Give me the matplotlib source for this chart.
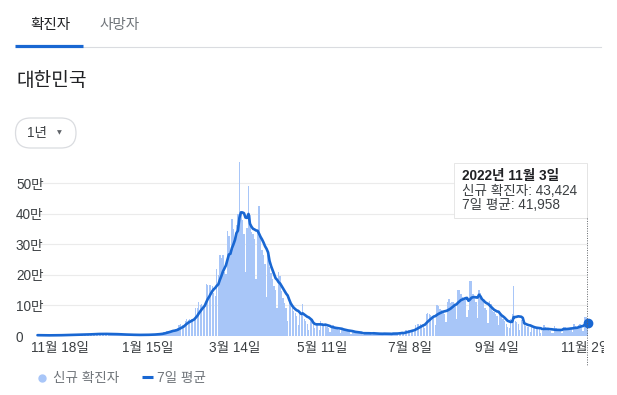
import numpy as np
import pandas as pd
import matplotlib
matplotlib.use('Agg')
import matplotlib.pyplot as plt
import matplotlib.dates as mdates
from matplotlib.patches import FancyBboxPatch, Rectangle
from matplotlib.lines import Line2D
from matplotlib.transforms import Bbox, TransformedBbox

plt.rcParams['font.family'] = ['Liberation Sans', 'Noto Sans CJK KR']

# daily new cases (thousands), 2021-11-03 .. 2022-11-03
nov21 = [2.7, 2.5, 2.3, 2.2, 2.2, 1.8, 1.7,
         2.4, 2.5, 2.4, 2.3, 2.4, 2.0, 2.1,
         3.2, 3.3, 3.0, 3.2, 3.1, 2.8, 2.7,
         4.1, 3.9, 4.1, 3.9, 3.9, 3.3, 3.0]
dec21 = [5.1, 5.3, 4.9, 5.4, 5.1, 4.3, 5.0,
         7.2, 7.1, 7.0, 7.0, 6.7, 5.8, 5.6,
         7.9, 7.6, 7.4, 7.3, 6.2, 5.3, 5.2,
         7.5, 6.9, 6.2, 5.8, 5.4, 4.2, 3.9,
         5.4, 5.0, 4.9]
jan22 = [4.4, 3.8, 3.1, 3.0, 4.4, 4.1, 3.7,
         3.5, 3.4, 3.0, 3.1, 4.4, 4.2, 4.5,
         4.4, 4.2, 3.9, 4.1, 5.8, 6.6, 6.8,
         7.0, 7.6, 7.5, 8.6, 13.0, 14.5, 16.1,
         17.5, 17.5, 18.3]
feb22 = [20.3, 18.3, 22.9, 27.4, 36.4, 38.7, 35.3,
         36.7, 49.6, 54.1, 53.9, 54.9, 56.4, 54.6,
         57.2, 90.4, 93.1, 109.8, 102.2, 104.8, 95.4,
         99.6, 171.5, 165.9, 166.2, 166.7, 163.6, 139.6]
mar22 = [131.8, 219.2, 198.8, 266.9, 254.3, 264.2, 210.7,
         202.7, 342.4, 327.5, 283.0, 383.7, 350.2, 309.8,
         362.3, 400.7, 621.3, 407.0, 381.5, 334.7, 209.2,
         354.0, 490.9, 395.6, 339.5, 335.6, 318.1, 187.2,
         347.6, 424.6, 320.7]
apr22 = [280.3, 264.2, 234.3, 127.2, 266.1, 224.8, 205.3,
         186.2, 164.5, 150.7, 90.9, 210.8, 195.4, 148.4,
         125.8, 107.9, 93.0, 47.7, 118.5, 111.3, 90.9,
         81.1, 75.4, 64.7, 34.4, 81.6, 76.8, 105.0,
         55.6, 50.6]
may22 = [37.8, 20.1, 51.1, 49.1, 42.3, 26.7, 40.1,
         38.0, 20.6, 49.9, 43.9, 35.9, 32.5, 29.6,
         25.4, 13.3, 29.6, 35.9, 28.0, 24.0, 25.1,
         19.3, 10.0, 23.9, 22.2, 18.8, 17.2, 16.6,
         14.5, 6.1, 17.2]
jun22 = [13.4, 9.9, 12.5, 9.8, 9.4, 5.0, 4.4,
         13.4, 12.2, 10.6, 8.0, 7.4, 3.8, 7.2,
         10.5, 9.3, 8.0, 7.2, 6.1, 3.5, 9.3,
         10.0, 8.5, 7.5, 6.2, 3.4, 9.9, 9.6,
         10.5, 9.5]
jul22 = [10.7, 10.1, 10.1, 6.3, 18.1, 19.4, 18.5,
         20.3, 20.4, 20.4, 12.7, 37.4, 40.3, 38.9,
         38.9, 35.9, 40.3, 26.3, 73.6, 76.4, 71.2,
         68.6, 65.4, 65.4, 35.9, 100.3, 99.3, 88.4,
         85.3, 81.8, 73.6]
aug22 = [44.7, 111.8, 119.9, 107.9, 112.9, 110.7, 105.5,
         55.3, 149.9, 151.8, 137.2, 128.7, 124.6, 119.6,
         62.1, 84.1, 180.8, 178.6, 138.8, 129.4, 110.0,
         59.0, 150.5, 139.3, 113.4, 113.1, 91.8, 85.3,
         43.1, 115.6, 104.0]
sep22 = [81.6, 79.7, 72.1, 66.5, 37.6, 69.4, 66.0,
         57.0, 50.0, 38.0, 30.0, 25.0, 56.0, 71.0,
         164.0, 50.0, 45.0, 40.0, 20.0, 52.0, 45.0,
         40.0, 34.0, 30.0, 28.0, 14.0, 36.0, 30.0,
         28.0, 25.0]
oct22 = [24.6, 22.7, 11.0, 16.4, 35.4, 29.0, 25.0,
         22.9, 17.0, 9.1, 11.0, 31.3, 25.0, 23.6,
         20.0, 18.4, 10.0, 30.5, 30.6, 26.9, 26.0,
         25.6, 22.8, 12.0, 39.0, 33.2, 30.0, 36.0,
         38.0, 35.0, 18.0]
nov22 = [62.0, 61.3, 43.424]

start_date = '2021-11-03'
tick_dates = ['2021-11-18', '2022-01-15', '2022-03-14', '2022-05-11',
              '2022-07-08', '2022-09-04', '2022-11-02']
tick_labels = ['11월 18일', '1월 15일', '3월 14일', '5월 11일',
               '7월 8일', '9월 4일', '11월 2일']
y_ticks = [0, 100000, 200000, 300000, 400000, 500000]
y_labels = ['0', '10만', '20만', '30만', '40만', '50만']

tip_title = '2022년 11월 3일'
tip_new = 43424
tip_avg = 41958

BAR = '#a8c6f8'
BLUE = '#1967d2'
GRAY = '#70757a'
DARK = '#202124'
TXT = '#3c4043'

daily_k = (nov21 + dec21 + jan22 + feb22 + mar22 + apr22 + may22 + jun22
           + jul22 + aug22 + sep22 + oct22 + nov22)
dates = pd.date_range(start_date, periods=len(daily_k), freq='D')
cases = pd.Series(np.array(daily_k) * 1000, index=dates)
avg7 = cases.rolling(7, min_periods=1).mean()

W, H = 617, 395
fig = plt.figure(figsize=(W / 100, H / 100), dpi=100)
fig.patch.set_facecolor('white')


def px(x, y):
    # pixel (from top-left) -> inches for dpi_scale_trans
    return x / 100, (H - y) / 100


# plot area in pixels
left, right, top, bottom = 36.75, 588.3, 162, 336
ax = fig.add_axes([left / W, (H - bottom) / H, (right - left) / W, (bottom - top) / H])

xnum = mdates.date2num(dates)
ax.bar(xnum, cases.values, width=0.88, color=BAR, linewidth=0, zorder=2)
ax.plot(xnum, avg7.values, color=BLUE, lw=1.9, zorder=3, clip_on=False,
        solid_joinstyle='round', solid_capstyle='round')
ax.plot(xnum[-1], avg7.values[-1], 'o', color=BLUE, ms=6, zorder=4, clip_on=False)

ax.set_xlim(xnum[0] - 0.5, xnum[-1] + 0.5)
ax.set_ylim(0, 570000)
for s in ax.spines.values():
    s.set_visible(False)

ax.set_yticks(y_ticks)
ax.set_yticklabels(y_labels)
ax.yaxis.grid(True, color='#ebebeb', lw=0.8, zorder=0)
ax.set_axisbelow(True)
ax.tick_params(axis='y', length=0, pad=(left - 16) * 0.72, labelsize=9.8, labelcolor=TXT)
for t in ax.get_yticklabels():
    t.set_horizontalalignment('left')

ax.set_xticks(mdates.date2num(pd.to_datetime(tick_dates)))
ax.set_xticklabels(tick_labels)
ax.tick_params(axis='x', length=0, pad=3.5, labelsize=9.8, labelcolor=TXT)
clip = TransformedBbox(Bbox([[0, 0], [6.04, 3.95]]), fig.dpi_scale_trans)
for t in ax.get_xticklabels():
    t.set_clip_box(clip)
    t.set_clip_on(True)

tr = fig.dpi_scale_trans

# tabs
fig.text(*px(50.7, 25), '확진자', transform=tr, ha='center', va='center', fontsize=10.5, color=DARK)
fig.text(*px(119.3, 25), '사망자', transform=tr, ha='center', va='center', fontsize=10.5, color=GRAY)
fig.add_artist(Line2D([px(83, 47.3)[0], px(601, 47.3)[0]], [px(0, 47.3)[1]] * 2,
                      transform=tr, color='#dadce0', lw=0.8))
fig.add_artist(Line2D([px(15, 45.7)[0], px(83.3, 45.7)[0]], [px(0, 45.7)[1]] * 2,
                      transform=tr, color=BLUE, lw=2.3, solid_capstyle='butt'))

# title
fig.text(*px(16, 80.7), '대한민국', transform=tr, ha='left', va='center', fontsize=13.8, color=DARK)

# range button
bx0, by0 = px(15.5, 148)
fig.add_artist(FancyBboxPatch((bx0, by0), 0.605, 0.30,
                              boxstyle='round,pad=0,rounding_size=0.15',
                              transform=tr, facecolor='white', edgecolor='#dadce0', lw=0.9))
fig.text(*px(27.3, 133), '1년', transform=tr, ha='left', va='center', fontsize=9.8, color=TXT)
fig.text(*px(59.5, 132.5), '▼', transform=tr, ha='center', va='center', fontsize=4.5,
         color='#5f6368', family='DejaVu Sans')

# legend
fig.add_artist(Line2D([px(42.3, 0)[0]], [px(0, 377.7)[1]], transform=tr,
                      marker='o', ms=5, color=BAR, lw=0))
fig.text(*px(52.7, 377.7), '신규 확진자', transform=tr, ha='left', va='center', fontsize=9.8, color=GRAY)
fig.add_artist(Line2D([px(141.7, 0)[0], px(152.7, 0)[0]], [px(0, 376.7)[1]] * 2,
                      transform=tr, color=BLUE, lw=2.2, solid_capstyle='butt'))
fig.text(*px(156.7, 377.7), '7일 평균', transform=tr, ha='left', va='center', fontsize=9.8, color=GRAY)

# hover line + tooltip
fig.add_artist(Line2D([px(587.3, 0)[0]] * 2, [px(0, 218)[1], px(0, 366)[1]], transform=tr,
                      color='#5f6368', lw=0.7, ls=(0, (1, 1.5))))
tx0, ty0 = px(454, 218)
fig.add_artist(Rectangle((tx0 + 0.01, ty0 - 0.012), 1.33, 0.55, transform=tr,
                         facecolor='#000000', alpha=0.12, lw=0))
fig.add_artist(Rectangle((tx0, ty0), 1.33, 0.55, transform=tr,
                         facecolor='white', edgecolor='#e3e3e3', lw=0.6))
fig.text(*px(461.7, 175.5), tip_title, transform=tr, ha='left', va='center',
         fontsize=9.8, color=DARK, fontweight='bold')
fig.text(*px(461.7, 190.7), f'신규 확진자: {tip_new:,}', transform=tr, ha='left', va='center',
         fontsize=9.8, color=TXT)
fig.text(*px(461.7, 205.3), f'7일 평균: {tip_avg:,}', transform=tr, ha='left', va='center',
         fontsize=9.8, color=TXT)

fig.savefig('out.png', dpi=100)
